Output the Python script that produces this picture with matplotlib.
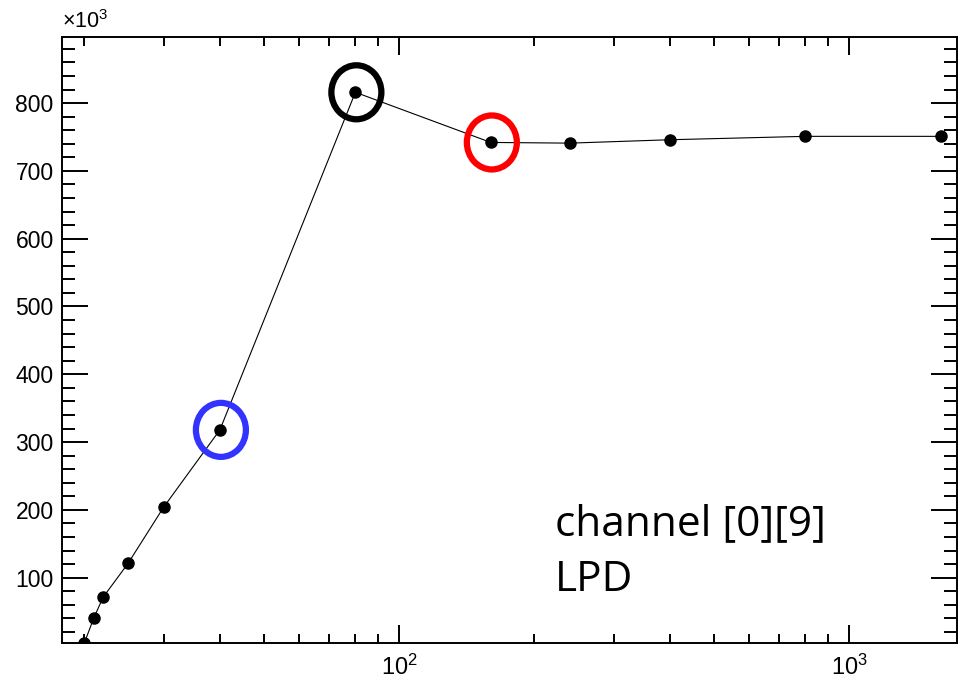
import math
import matplotlib
matplotlib.use("Agg")
import matplotlib.pyplot as plt
from matplotlib.patches import Ellipse
from matplotlib.transforms import ScaledTranslation
from matplotlib.ticker import FixedLocator, FuncFormatter, LogLocator, NullFormatter

# gain scan for channel [0][9], LPD
x = [20, 21, 22, 25, 30, 40, 80, 160, 240, 400, 800, 1600]
y = [4e3, 41e3, 71e3, 121e3, 204e3, 318e3, 816e3, 742e3, 741e3, 746e3, 751e3, 751e3]

# highlighted points: (index into x/y, colour)
marked = [(5, "#3333ff"), (6, "black"), (7, "red")]

plt.rcParams["font.family"] = "Liberation Sans"
plt.rcParams["mathtext.fontset"] = "custom"
plt.rcParams["mathtext.rm"] = "Liberation Sans"
plt.rcParams["mathtext.it"] = "Liberation Sans"

fig = plt.figure(figsize=(9.58, 6.86), dpi=100)
ax = fig.add_axes([0.0647, 0.0622, 0.9343, 0.8843])

ax.plot(x, y, color="black", lw=0.8, marker="o", ms=8, mfc="black", mec="black", zorder=3)

ax.set_xscale("log")
ax.set_xlim(17.83, 1738)
ax.set_ylim(3.1e3, 898e3)

ax.xaxis.set_major_locator(LogLocator(base=10, numticks=10))
ax.xaxis.set_minor_locator(LogLocator(base=10, subs=range(2, 10), numticks=20))
ax.xaxis.set_minor_formatter(NullFormatter())
ax.xaxis.set_major_formatter(FuncFormatter(lambda v, p: r"$10^{%d}$" % round(math.log10(v))))

ax.yaxis.set_major_locator(FixedLocator([i * 100e3 for i in range(1, 9)]))
ax.yaxis.set_minor_locator(FixedLocator([i * 20e3 for i in range(1, 45)]))
ax.yaxis.set_major_formatter(FuncFormatter(lambda v, p: "%d" % round(v / 1e3)))

for s in ax.spines.values():
    s.set_linewidth(1.4)

ax.tick_params(axis="both", which="both", direction="in", top=True, right=True, width=1.4)
ax.tick_params(axis="y", which="major", length=19, pad=6, labelsize=16.5)
ax.tick_params(axis="y", which="minor", length=9.5)
ax.tick_params(axis="x", which="major", length=13, pad=8, labelsize=17)
ax.tick_params(axis="x", which="minor", length=6.5)

fig.text(0.0647, 0.952, r"$\times10^{3}$", fontsize=15.5, ha="left", va="bottom")

# circles around the highlighted points, sized in inches so they stay round
for i, c in marked:
    tr = fig.dpi_scale_trans + ScaledTranslation(x[i], y[i], ax.transData)
    e = Ellipse((0.01, 0.0), 0.50, 0.54, transform=tr, fill=False, edgecolor=c, lw=4.5, zorder=4)
    e.set_clip_on(False)
    ax.add_artist(e)

ax.text(0.551, 0.179, "channel [0][9]", transform=ax.transAxes, fontsize=30.5,
        family="Open Sans", ha="left", va="baseline")
ax.text(0.551, 0.086, "LPD", transform=ax.transAxes, fontsize=30.5,
        family="Open Sans", ha="left", va="baseline")

fig.savefig("out.png", dpi=100)
